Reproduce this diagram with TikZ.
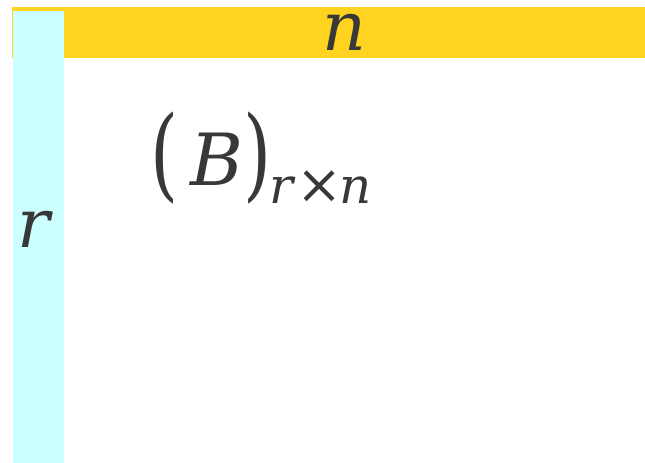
\documentclass[tikz,border=0pt]{standalone}
\usepackage{fontspec}
\setmainfont{DejaVu Serif}
\usepackage{graphicx}

\definecolor{barYellow}{HTML}{FFD320}
\definecolor{barCyan}{HTML}{CCFFFF}
\definecolor{inkGrey}{HTML}{383838}

\newcommand{\dimfont}{\fontsize{68}{68}\selectfont}
\newcommand{\matfont}{\fontsize{72}{72}\selectfont}
\newcommand{\subfont}{\fontsize{50}{50}\selectfont}
\newcommand{\tallparen}[1]{\raisebox{-3pt}{\scalebox{1}[1.4]{#1}}}
\newcommand{\crosssign}{\scalebox{1.1}{×}}

\begin{document}
\begin{tikzpicture}[x=1pt,y=-1pt,
    every node/.style={inner sep=0pt,text=inkGrey}]
    \useasboundingbox (0,0) rectangle (645,463);
    % the two bars
    \fill[barYellow] (12,7) rectangle (645,58);
    \fill[barCyan] (13,11) rectangle (64,463);
    % sizes
    \node[anchor=base] (nlabel) at (344,50) {\dimfont\smash{\textit{n}}};
    \node[anchor=base] (rlabel) at (35,247) {\dimfont\textit{r}};
    % the matrix
    \node[anchor=base west] (matB) at (150,185)
        {\matfont\tallparen{(}\hspace{12pt}\textit{B}\tallparen{)}\hspace{-2pt}%
         \raisebox{-18pt}{\subfont\textit{r}\hspace{1pt}\crosssign\hspace{-3pt}\textit{n}}};
\end{tikzpicture}
\end{document}
